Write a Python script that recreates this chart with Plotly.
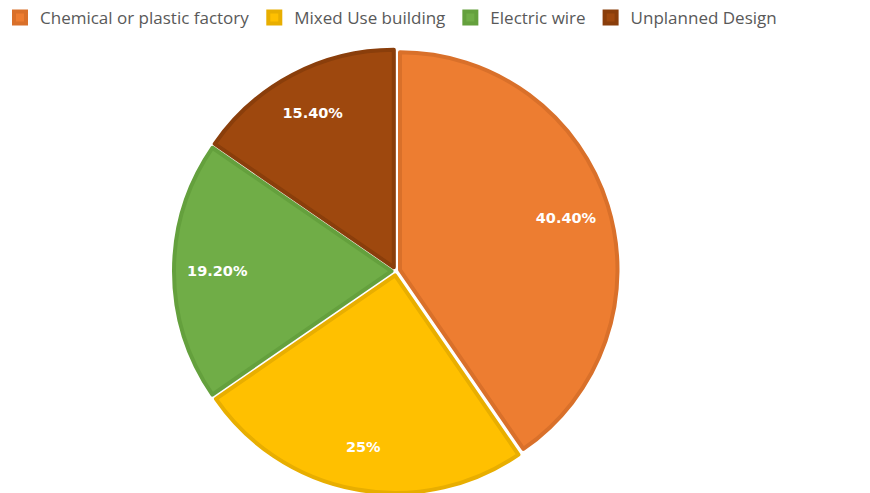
import plotly.graph_objects as go

# Causes of fire incidents (share of cases, %)
categories = ["Chemical or plastic factory", "Mixed Use building", "Electric wire", "Unplanned Design"]
values = [40.4, 25, 19.2, 15.4]
fill_colors = ["#ED7D31", "#FFC000", "#70AD47", "#9E480E"]
edge_colors = ["#D9702A", "#E8AE00", "#64A03D", "#8A3E0B"]


def fmt(v):
    return f"{v:.0f}%" if float(v).is_integer() else f"{v:.2f}%"


labels_text = [fmt(v) for v in values]

pie_domain = dict(x=[0.19, 0.72], y=[0.0, 0.9])
pull = [0.02] * len(values)

fig = go.Figure()

# Filled slices with darker rims
fig.add_trace(
    go.Pie(
        labels=categories,
        values=values,
        textinfo="none",
        sort=False,
        direction="clockwise",
        rotation=0,
        pull=pull,
        marker=dict(colors=fill_colors, line=dict(color=edge_colors, width=4)),
        domain=pie_domain,
        hoverinfo="label+percent",
    )
)

# Transparent ring carrying the percentage labels towards the rim
fig.add_trace(
    go.Pie(
        labels=categories,
        values=values,
        text=labels_text,
        textinfo="text",
        texttemplate="%{text}",
        textposition="inside",
        insidetextorientation="horizontal",
        textfont=dict(family="DejaVu Sans", size=14.5, color="white", weight="bold"),
        sort=False,
        direction="clockwise",
        rotation=0,
        pull=pull,
        hole=0.6,
        marker=dict(colors=["rgba(0,0,0,0)"] * len(values), line=dict(width=0)),
        domain=pie_domain,
        showlegend=False,
        hoverinfo="skip",
    )
)

fig.update_layout(
    width=870,
    height=493,
    margin=dict(l=0, r=0, t=0, b=0),
    paper_bgcolor="white",
    plot_bgcolor="white",
    showlegend=True,
    legend=dict(
        orientation="h",
        x=0.0,
        y=1.0,
        xanchor="left",
        yanchor="top",
        font=dict(family="Open Sans", size=17, color="#595959"),
        itemwidth=30,
        traceorder="normal",
    ),
)

fig.write_html("out.html")
